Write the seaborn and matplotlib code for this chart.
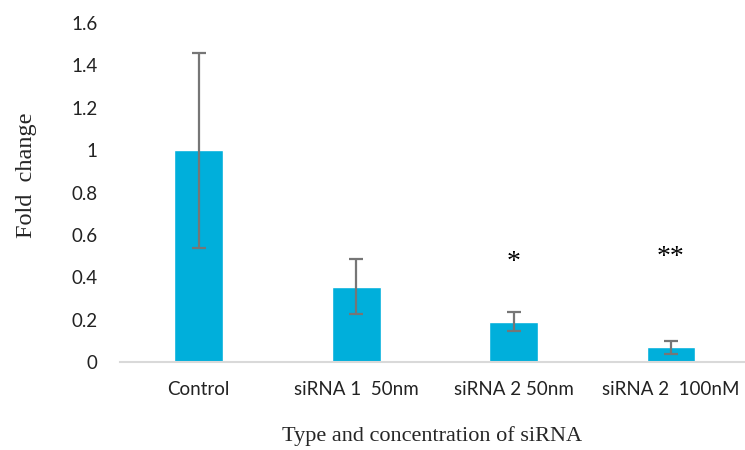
import matplotlib
matplotlib.use("Agg")
import matplotlib.pyplot as plt
import seaborn as sns
import pandas as pd

# Data
groups = ["Control", "siRNA 1  50nm", "siRNA 2 50nm", "siRNA 2  100nM"]
fold_change = [1.0, 0.355, 0.19, 0.07]
errors = [0.46, 0.13, 0.045, 0.03]
stars = ["", "", "*", "**"]
star_y = [0, 0, 0.47, 0.495]

df = pd.DataFrame({"group": groups, "fold": fold_change})

sns.set_style("white")
fig = plt.figure(figsize=(7.45, 4.5), dpi=100)
ax = fig.add_axes([0.161, 0.1956, 0.839, 0.753])

bar_color = "#00afdb"
sns.barplot(data=df, x="group", y="fold", order=groups, color=bar_color,
            saturation=1, width=0.31, errorbar=None, ax=ax)

ax.errorbar(range(len(groups)), fold_change, yerr=errors, fmt="none",
            ecolor="#767676", elinewidth=1.6, capsize=5, capthick=1.6)

for i, (s, y) in enumerate(zip(stars, star_y)):
    if s:
        ax.text(i, y, s, ha="center", va="center", fontsize=20,
                family="Liberation Serif", color="black")

ax.set_ylim(0, 1.6)
ax.set_xlim(-0.5, 3.47)
ax.set_yticks([0, 0.2, 0.4, 0.6, 0.8, 1.0, 1.2, 1.4, 1.6])
ax.set_yticklabels(["0", "0.2", "0.4", "0.6", "0.8", "1", "1.2", "1.4", "1.6"])

for lab in ax.get_xticklabels() + ax.get_yticklabels():
    lab.set_family("Lato")
    lab.set_fontsize(13.5)
    lab.set_color("#222222")
ax.tick_params(axis="both", length=0)
ax.tick_params(axis="x", pad=14)
ax.tick_params(axis="y", pad=16)

for side in ["top", "right", "left"]:
    ax.spines[side].set_visible(False)
ax.spines["bottom"].set_color("#d9d9d9")
ax.spines["bottom"].set_linewidth(1.5)

ax.set_xlabel("Type and concentration of siRNA", family="Liberation Serif",
              fontsize=16)
ax.set_ylabel("Fold  change", family="Liberation Serif", fontsize=17.5)
ax.xaxis.set_label_coords(0.5, -0.19)
ax.yaxis.set_label_coords(-0.133, 0.55)

fig.savefig("out.png", dpi=100)
